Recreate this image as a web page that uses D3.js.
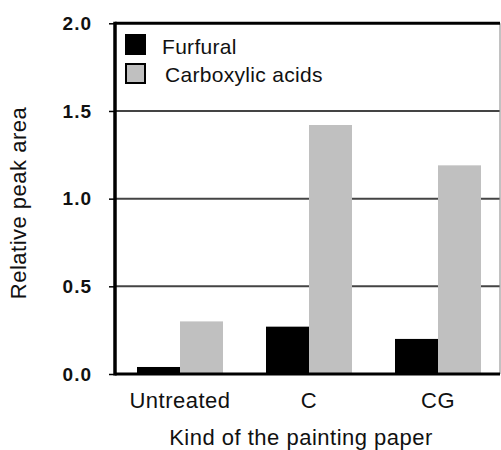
<!DOCTYPE html>
<html lang="en">
<head>
<meta charset="UTF-8">
<title>Relative peak area</title>
<script src="https://d3js.org/d3.v7.min.js"></script>
<style>
  body { margin: 0; background: #fff; }
  svg { display: block; font-family: "Liberation Sans", Arial, sans-serif; }
</style>
</head>
<body>
<svg id="chart" width="501" height="450"></svg>
<script>
// data
const categories = ["Untreated", "C", "CG"];
const seriesNames = ["Furfural", "Carboxylic acids"];
const furfural = [0.04, 0.27, 0.20];
const carboxylic = [0.30, 1.42, 1.19];
const yTicks = [0, 0.5, 1.0, 1.5, 2.0];
const colors = ["#000000", "#c0c0c0"];

const svg = d3.select("#chart");

const plotLeft = 115, plotRight = 500, plotTop = 23.3, plotBottom = 374;

const x = d3.scaleBand()
    .domain(categories)
    .range([115.5, 502.5])
    .paddingInner(1 / 3)
    .paddingOuter(1 / 6);

const xSub = d3.scaleBand()
    .domain(seriesNames)
    .range([0, x.bandwidth()]);

const y = d3.scaleLinear().domain([0, 2]).range([plotBottom, plotTop]);

// grid lines
svg.append("g")
  .selectAll("line")
  .data(yTicks.filter(d => d > 0 && d < 2))
  .join("line")
    .attr("x1", plotLeft).attr("x2", plotRight)
    .attr("y1", d => y(d)).attr("y2", d => y(d))
    .attr("stroke", "#444").attr("stroke-width", 2);

// right border
svg.append("line")
    .attr("x1", plotRight).attr("x2", plotRight)
    .attr("y1", plotTop).attr("y2", plotBottom)
    .attr("stroke", "#999").attr("stroke-width", 1.2);

// bars
const rows = categories.map((c, i) => ({ cat: c, values: [furfural[i], carboxylic[i]] }));
svg.append("g")
  .selectAll("g")
  .data(rows)
  .join("g")
    .attr("transform", d => `translate(${x(d.cat)},0)`)
  .selectAll("rect")
  .data(d => d.values.map((v, j) => ({ name: seriesNames[j], v, j })))
  .join("rect")
    .attr("x", d => xSub(d.name))
    .attr("width", xSub.bandwidth())
    .attr("y", d => y(d.v))
    .attr("height", d => y(0) - y(d.v))
    .attr("fill", d => colors[d.j]);

// top border
svg.append("line")
    .attr("x1", plotLeft).attr("x2", plotRight)
    .attr("y1", y(2)).attr("y2", y(2))
    .attr("stroke", "#000").attr("stroke-width", 3);

// y axis
const yAxis = svg.append("g")
    .attr("transform", `translate(${plotLeft},0)`)
    .call(d3.axisLeft(y).tickValues(yTicks).tickFormat(d3.format(".1f")).tickSize(6).tickPadding(17));
yAxis.select(".domain").remove();
yAxis.selectAll(".tick line").attr("stroke", "#000").attr("stroke-width", 1.5);
yAxis.selectAll(".tick text")
    .attr("font-size", 19).attr("font-weight", "bold").attr("fill", "#111")
    .attr("letter-spacing", 1)
    .attr("font-family", "Liberation Sans, Arial, sans-serif");
yAxis.append("line")
    .attr("x1", 0).attr("x2", 0)
    .attr("y1", plotTop - 1.5).attr("y2", plotBottom + 1.5)
    .attr("stroke", "#000").attr("stroke-width", 3.5);

// x axis
const xAxis = svg.append("g")
    .attr("transform", `translate(0,${plotBottom})`)
    .call(d3.axisBottom(x).tickSize(0).tickPadding(18));
xAxis.select(".domain").remove();
xAxis.selectAll(".tick text")
    .attr("font-size", 22).attr("fill", "#111")
    .attr("letter-spacing", 0.5)
    .attr("font-family", "Liberation Sans, Arial, sans-serif");
xAxis.append("line")
    .attr("x1", plotLeft).attr("x2", plotRight)
    .attr("y1", 0).attr("y2", 0)
    .attr("stroke", "#000").attr("stroke-width", 3);

// axis titles
svg.append("text")
    .attr("x", 301).attr("y", 445)
    .attr("text-anchor", "middle")
    .attr("font-size", 22).attr("letter-spacing", 0.5).attr("fill", "#111")
    .text("Kind of the painting paper");

svg.append("text")
    .attr("transform", "translate(26,203) rotate(-90)")
    .attr("text-anchor", "middle")
    .attr("font-size", 22).attr("letter-spacing", 0.5).attr("fill", "#111")
    .text("Relative peak area");

// legend
const legend = svg.append("g");
legend.selectAll("rect")
  .data(seriesNames)
  .join("rect")
    .attr("x", (d, i) => i ? 126 : 125)
    .attr("y", (d, i) => i ? 64 : 34)
    .attr("width", (d, i) => i ? 19 : 21)
    .attr("height", (d, i) => i ? 19 : 21)
    .attr("fill", (d, i) => colors[i])
    .attr("stroke", "#000")
    .attr("stroke-width", (d, i) => i ? 2 : 0);
legend.selectAll("text")
  .data(seriesNames)
  .join("text")
    .attr("x", (d, i) => i ? 165 : 162)
    .attr("y", (d, i) => i ? 82 : 54)
    .attr("font-size", 21).attr("letter-spacing", 0.3).attr("fill", "#111")
    .text(d => d);
</script>
</body>
</html>
